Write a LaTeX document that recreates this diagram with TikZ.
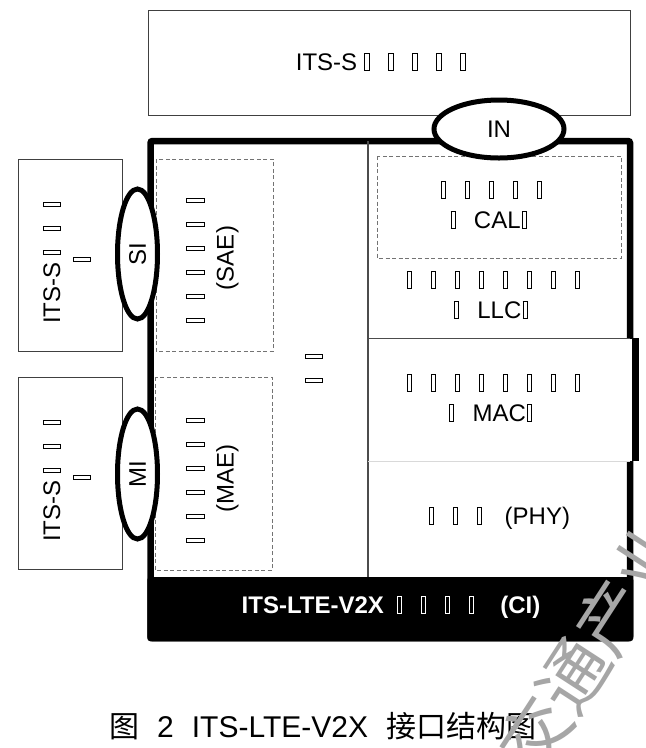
\documentclass[tikz,border=0pt]{standalone}
\usepackage{fontspec}
\setmainfont{Liberation Sans}
\newfontfamily\cjk{Noto Sans CJK SC}
\usetikzlibrary{shapes.geometric}

% missing-glyph boxes as printed
\newcommand\nbbox{{\setlength\fboxsep{0pt}\setlength\fboxrule{0.9pt}\fbox{\rule{0pt}{0.68em}\rule{0.14em}{0pt}}}}
\newcommand\nb{\makebox[1em][l]{\hspace{0.3em}\nbbox}}
\newcommand\nbt{\makebox[1em][l]{\hspace{0.05em}\nbbox}}

\tikzset{
  thinline/.style={draw=black!75, line width=1pt},
  dashline/.style={draw=black!55, line width=1pt, dash pattern=on 4pt off 2.5pt},
  port/.style={ellipse, draw, line width=5pt, fill=white, inner sep=0pt},
  lab/.style={font=\fontsize{24}{30}\selectfont, align=center, inner sep=0pt},
}

\begin{document}
\begin{tikzpicture}[x=1pt, y=-1pt]
    \useasboundingbox (0,0) rectangle (646,748);
    \fill[white] (0,0) rectangle (646,748);

    % Upper ITS-S box
    \draw[thinline] (148,10) rectangle (630,115);
    \node[lab] (itstop) at (386.5,62) {ITS-S\nb\nb\nb\nb\nb};

    % Left ITS-S boxes
    \draw[thinline] (18,159) rectangle (122,351);
    \draw[thinline] (18,377) rectangle (122,569);
    \node[lab, rotate=90] (itssi) at (67,257) {ITS-S\nb\nb\nb\\\nb};
    \node[lab, rotate=90] (itsmi) at (67,475) {ITS-S\nb\nb\nb\\\nb};

    % Main frame
    \draw[line width=6.5pt, rounded corners=2pt] (150.5,141) rectangle (630,638);
    \draw[black!70, line width=1.2pt] (368,141) -- (368,577);
    \draw[black!70, line width=1pt] (368,338) -- (630,338);

    % MAC layer
    \fill[white] (368.6,338.5) rectangle (632,461);
    \fill[black] (632,338) rectangle (639,461);
    \draw[black!15, line width=1pt] (368,461) -- (630,461);

    % Bottom band
    \fill[rounded corners=3pt] (147.25,577) rectangle (633.25,641.25);
    \node[lab, font=\fontsize{24}{30}\selectfont\bfseries, text=white] (ci) at (391,607)
        {ITS-LTE-V2X\hspace{0.25em}\nb\nb\nb\nb\hspace{0.6em}(CI)};

    % Entity boxes
    \draw[dashline] (156,159) rectangle (273,351);
    \draw[dashline] (155,377) rectangle (272,570);
    \draw[dashline] (377,156) rectangle (621,258);
    \node[lab, rotate=90] (sae) at (212.5,258) {\nb\nb\nb\nb\nb\nb\\(SAE)};
    \node[lab, rotate=90] (mae) at (212.5,478) {\nb\nb\nb\nb\nb\nb\\(MAE)};
    \node[lab, rotate=90] (mgmt) at (314,366) {\nb\nb};

    % Right column layers
    \node[lab] (cal) at (494,205) {\nb\nb\nb\nb\nb\\\nb{} CAL\nbt};
    \node[lab] (llc) at (496,295) {\nb\nb\nb\nb\nb\nb\nb\nb\\\nb{} LLC\nbt};
    \node[lab] (mac) at (496,398) {\nb\nb\nb\nb\nb\nb\nb\nb\\\nb{} MAC\nbt};
    \node[lab] (phy) at (496,518) {\nb\nb\nb\hspace{0.45em}(PHY)};

    % Interfaces
    \node[port, minimum width=130, minimum height=58] (in) at (499,129) {};
    \node[lab] at (in) {IN};
    \node[port, minimum width=40, minimum height=130] (si) at (137.5,254) {};
    \node[lab, rotate=90] at (si) {SI};
    \node[port, minimum width=40, minimum height=130] (mi) at (137.5,474) {};
    \node[lab, rotate=90] at (mi) {MI};

    % Caption
    \node[anchor=west, inner sep=0pt, font=\fontsize{30}{34}\selectfont] (cap) at (109,726)
        {{\cjk 图}\hspace{0.6em}2\hspace{0.6em}ITS-LTE-V2X\hspace{0.6em}{\cjk 接口结构图}};

    % Watermark
    \begin{scope}
        \clip (0,0) rectangle (646,748);
        \node[rotate=57, text=black!35, inner sep=0pt, font=\cjk\fontsize{70}{70}\selectfont] (wm) at (592,646) {交通产业};
    \end{scope}
\end{tikzpicture}
\end{document}
